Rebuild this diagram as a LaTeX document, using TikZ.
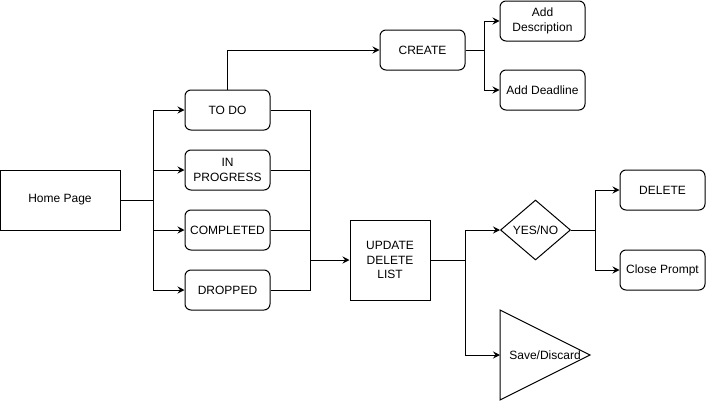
\documentclass[tikz,border=0pt]{standalone}
\usepackage{fontspec}
\setmainfont{Liberation Sans}
\usetikzlibrary{shapes.geometric,arrows.meta}
\begin{document}
\begin{tikzpicture}[x=1pt,y=-1pt,
  line width=1pt,
  every node/.style={font=\fontsize{12}{14.5}\selectfont, align=center, inner sep=1pt},
  rbox/.style={draw, rounded corners=6pt, minimum width=85pt, minimum height=40pt},
  sbox/.style={draw},
  arr/.style={-{Stealth[length=7pt,width=7pt,inset=2.5pt]}}]
\useasboundingbox (0,0) rectangle (707,402);
% nodes
\node[sbox, minimum width=120pt, minimum height=60pt] (home) at (60,200) {Home Page};
\node[rbox] (todo) at (227.5,110) {TO DO};
\node[rbox] (inprog) at (227.5,170) {IN\\PROGRESS};
\node[rbox] (completed) at (227.5,230) {COMPLETED};
\node[rbox] (dropped) at (227.5,290) {DROPPED};
\node[rbox] (create) at (422.5,50) {CREATE};
\node[rbox] (desc) at (542.5,21) {Add\\Description};
\node[rbox] (deadline) at (542.5,90) {Add Deadline};
\node[sbox, minimum width=80pt, minimum height=80pt] (update) at (390,260) {UPDATE\\DELETE\\LIST};
\node[draw, diamond, inner sep=0pt, minimum width=70pt, minimum height=60pt, shape aspect=1.1667] (yesno) at (535.5,230) {YES/NO};
\node[rbox] (delete) at (662.5,190) {DELETE};
\node[rbox] (close) at (662.5,270) {Close Prompt};
\draw (500,310) -- (590,355) -- (500,400) -- cycle;
\node (save) at (545,355) {Save/Discard};
\coordinate (savein) at (500,355);
% junctions
\coordinate (hb) at (153,200);
\coordinate (rb) at (310.5,260);
\coordinate (cb) at (484,50);
\coordinate (ub) at (465,260);
\coordinate (yb) at (595,230);
% connectors
\draw (home.east) -- (hb);
\foreach \n in {todo,inprog,completed,dropped} {
  \draw[arr] (hb) |- (\n.west);
  \draw (\n.east) -| (rb);
}
\draw[arr] (rb) -- (update.west);
\draw[arr] (todo.north) |- (create.west);
\draw (create.east) -- (cb);
\draw[arr] (cb) |- (desc.west);
\draw[arr] (cb) |- (deadline.west);
\draw (update.east) -- (ub);
\draw[arr] (ub) |- (yesno.west);
\draw[arr] (ub) |- (savein);
\draw (yesno.east) -- (yb);
\draw[arr] (yb) |- (delete.west);
\draw[arr] (yb) |- (close.west);
\end{tikzpicture}
\end{document}
